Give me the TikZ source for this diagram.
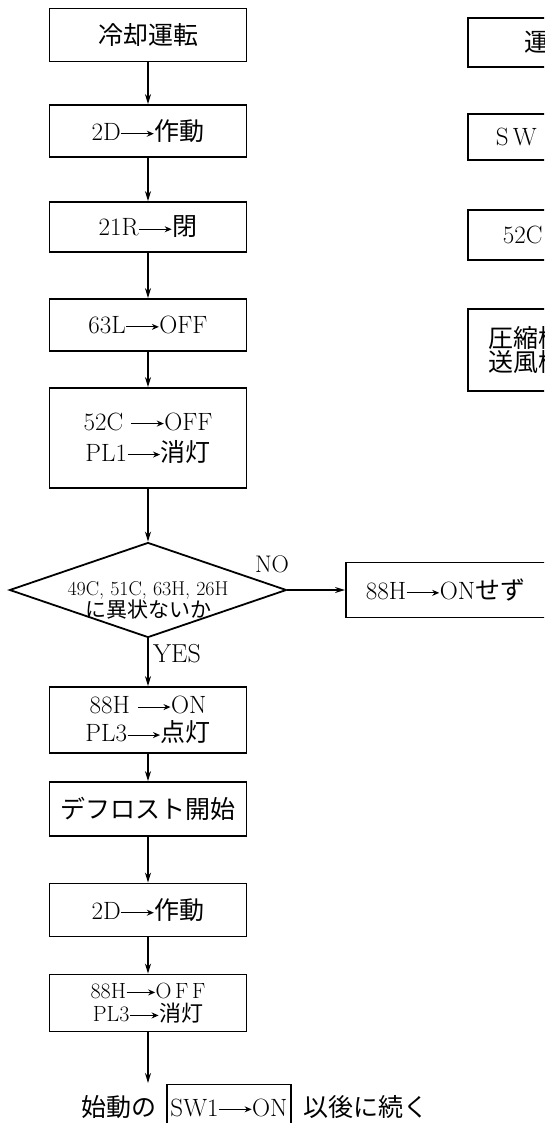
\documentclass[tikz,border=0pt]{standalone}
\usepackage{fontspec}
\usepackage{graphicx}
\usepackage{tikz}
\usetikzlibrary{arrows.meta, shapes.geometric}
\newfontfamily\jpfont{Noto Sans CJK JP}
\newcommand{\farr}{\tikz[baseline=-0.62ex]\draw[line width=1.1pt, -{Stealth[length=7pt, width=6pt]}] (0pt,0pt) -- (1.3em,0pt);}

\begin{document}
\begin{tikzpicture}[x=1pt, y=-1pt,
  box/.style={draw, line width=1.8pt, minimum width=197pt, inner sep=2pt, align=center, font=\fontsize{25}{31}\selectfont},
  sidebox/.style={draw, line width=1.8pt, anchor=north west, text width=160pt, align=left, font=\fontsize{25}{30}\selectfont},
  flow/.style={-{Stealth[length=10pt, width=6pt]}, line width=1.5pt}]
  \useasboundingbox (0,0) rectangle (544,1123);
  \clip (0,0) rectangle (544,1123);
  % main flow
  \node[box, minimum height=53pt] (cool) at (148,35) {\jpfont 冷却運転};
  \node[box, minimum height=52pt] (act1) at (148,131) {2D\farr{\jpfont 作動}};
  \node[box, minimum height=50pt] (shut) at (148,227) {21R\farr{\jpfont 閉}};
  \node[box, minimum height=52pt] (lowp) at (148,325) {63L\farr OFF};
  \node[box, minimum height=100pt] (compoff) at (148,438) {52C \farr OFF\\PL1\farr{\jpfont 消灯}};
  \node[draw, diamond, line width=1.8pt, minimum width=277pt, minimum height=95pt, inner sep=0pt] (check) at (148,590) {};
  \node[align=center, font=\fontsize{20}{22}\selectfont] (checktxt) at (148,600) {49C, 51C, 63H, 26H\\{\jpfont\fontsize{21}{22}\selectfont に異状ないか}};
  \node[box, minimum height=66pt, font=\fontsize{25}{28}\selectfont] (heaton) at (148,720) {88H \farr ON\\PL3\farr{\jpfont 点灯}};
  \node[box, minimum height=54pt, inner xsep=0pt] (defrost) at (148,809) {\jpfont デフロスト開始};
  \node[box, minimum height=53pt] (act2) at (148,910) {2D\farr{\jpfont 作動}};
  \node[box, minimum height=57pt, font=\fontsize{22}{23}\selectfont] (heatoff) at (148,1003) {88H\farr O\,F\,F\\PL3\farr{\jpfont 消灯}};
  \node[sidebox, anchor=west, minimum height=55pt, inner xsep=20pt] (noheat) at (345,590) {88H\farr ON{\jpfont せず}};
  \node[font=\fontsize{24}{26}\selectfont] (nolbl) at (272,564) {NO};
  \node[anchor=west, inner sep=0pt, font=\fontsize{26}{28}\selectfont] (yeslbl) at (153,654) {YES};
  % continuation line
  \node[anchor=base, font=\fontsize{25}{30}\selectfont] (contA) at (119,1116) {\jpfont 始動の};
  \node[draw, line width=1.6pt, anchor=base, minimum width=124pt, minimum height=46pt, font=\fontsize{25}{30}\selectfont] (swbox) at (229,1116) {SW1\farr ON};
  \node[anchor=base, font=\fontsize{25}{30}\selectfont] (contB) at (366,1116) {\jpfont 以後に続く};
  \coordinate (contin) at (148,1083);
  % right column
  \node[sidebox, minimum height=49pt, inner xsep=57pt] (runside) at (467,17) {\jpfont 運};
  \node[sidebox, minimum height=46pt, inner xsep=28pt] (swside) at (467,113) {S\,W};
  \node[sidebox, minimum height=50pt, inner xsep=35pt] (compside) at (467,209) {52C};
  \node[sidebox, minimum height=82pt, inner xsep=21pt, font=\fontsize{25}{24}\selectfont] (fanside) at (467,308) {\jpfont 圧縮機\\送風機};
  % connectors
  \draw[flow] (cool) -- (act1);
  \draw[flow] (act1) -- (shut);
  \draw[flow] (shut) -- (lowp);
  \draw[flow] (lowp) -- (compoff);
  \draw[flow] (compoff) -- (check);
  \draw[flow] (check) -- (noheat);
  \draw[flow] (check) -- (heaton);
  \draw[flow] (heaton) -- (defrost);
  \draw[flow] (defrost) -- (act2);
  \draw[flow] (act2) -- (heatoff);
  \draw[flow] (heatoff) -- (contin);
\end{tikzpicture}
\end{document}
